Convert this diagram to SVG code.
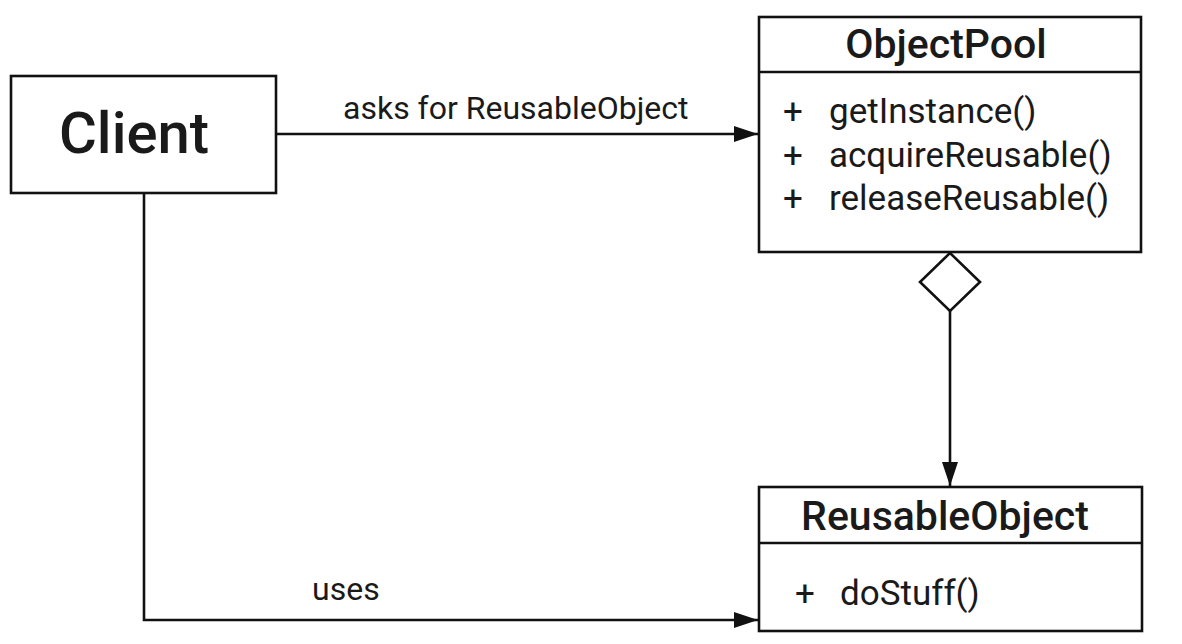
<svg xmlns="http://www.w3.org/2000/svg" width="1182" height="644" viewBox="0 0 1182 644">
<defs>
<style>
.box{fill:#fff;stroke:#111;stroke-width:2.6}
.div{stroke:#111;stroke-width:2.6}
.con{fill:none;stroke:#111;stroke-width:2.6}
text{font-family:Roboto,"Liberation Sans",sans-serif;fill:#1a1a1a}
.title{font-size:41px;font-weight:500;text-anchor:middle}
.meth{font-size:35px}
.lbl{font-size:32px}
</style>
<marker id="arr" markerUnits="userSpaceOnUse" markerWidth="26" markerHeight="18" refX="24" refY="8" orient="auto">
<path d="M0,0 L24,8 L0,16 Z" fill="#111"/>
</marker>
</defs>
<rect width="1182" height="644" fill="#fff"/>
<g id="connectors">
<line class="con" x1="276" y1="134" x2="758" y2="134" marker-end="url(#arr)"/>
<polyline class="con" points="144,193 144,620 758,620" marker-end="url(#arr)"/>
<line class="con" x1="950" y1="310" x2="950" y2="486" marker-end="url(#arr)"/>
<polygon points="950,253 980,282 950,311 920,282" fill="#fff" stroke="#111" stroke-width="2.6"/>
<text class="lbl" x="343" y="119">asks for ReusableObject</text>
<text class="lbl" x="312" y="600">uses</text>
</g>
<g id="client">
<rect class="box" x="11" y="76" width="265" height="117"/>
<text x="59" y="153" font-size="58" font-weight="500">Client</text>
</g>
<g id="objectpool">
<rect class="box" x="759" y="17" width="382" height="235"/>
<line class="div" x1="759" y1="72" x2="1141" y2="72"/>
<text class="title" x="946" y="58">ObjectPool</text>
<text class="meth" x="783" y="123">+</text>
<text class="meth" x="829" y="123">getInstance()</text>
<text class="meth" x="783" y="167">+</text>
<text class="meth" x="829" y="167">acquireReusable()</text>
<text class="meth" x="783" y="210">+</text>
<text class="meth" x="829" y="210">releaseReusable()</text>
</g>
<g id="reusableobject">
<rect class="box" x="759" y="487" width="383" height="144"/>
<line class="div" x1="759" y1="543" x2="1142" y2="543"/>
<text class="title" x="945" y="530">ReusableObject</text>
<text class="meth" x="795" y="605">+</text>
<text class="meth" x="840" y="605">doStuff()</text>
</g>
</svg>
